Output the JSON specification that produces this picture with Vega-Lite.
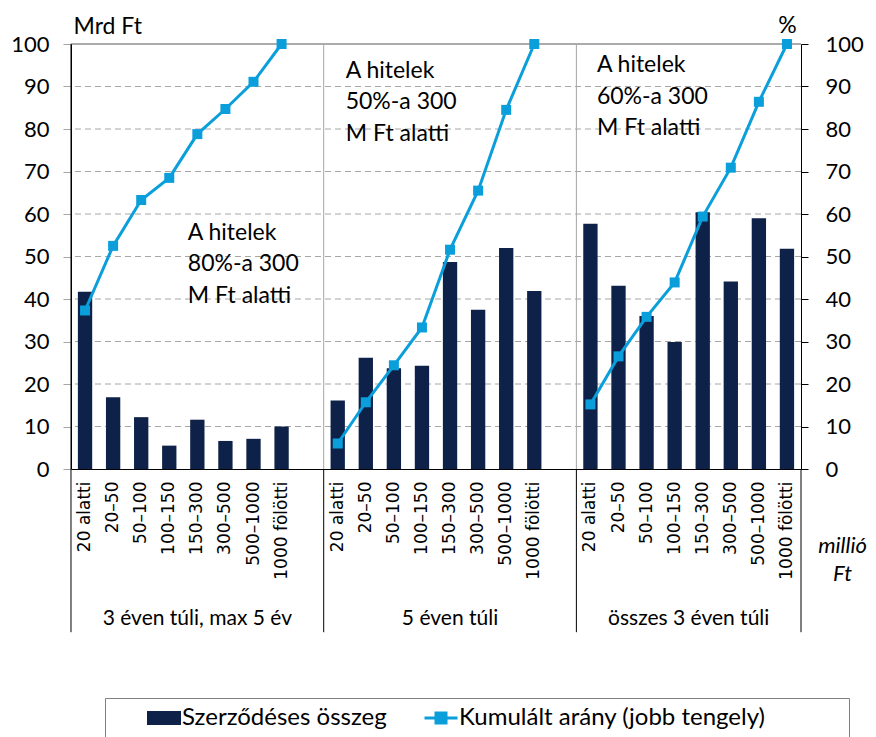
{
  "$schema": "https://vega.github.io/schema/vega-lite/v6.json",
  "width": 730,
  "height": 425,
  "autosize": {"type": "none"},
  "padding": {"left": 71, "top": 44, "right": 75, "bottom": 268},
  "background": "white",
  "config": {"font": "Lato", "view": {"stroke": null}},
  "datasets": {
    "bars": [
      {"slot": "1|20 alatti", "series": "Szerződéses összeg", "value": 41.7},
      {"slot": "1|20–50", "series": "Szerződéses összeg", "value": 16.9},
      {"slot": "1|50–100", "series": "Szerződéses összeg", "value": 12.2},
      {"slot": "1|100–150", "series": "Szerződéses összeg", "value": 5.5},
      {"slot": "1|150–300", "series": "Szerződéses összeg", "value": 11.6},
      {"slot": "1|300–500", "series": "Szerződéses összeg", "value": 6.6},
      {"slot": "1|500–1000", "series": "Szerződéses összeg", "value": 7.1},
      {"slot": "1|1000 fölötti", "series": "Szerződéses összeg", "value": 10.0},
      {"slot": "2|20 alatti", "series": "Szerződéses összeg", "value": 16.1},
      {"slot": "2|20–50", "series": "Szerződéses összeg", "value": 26.2},
      {"slot": "2|50–100", "series": "Szerződéses összeg", "value": 23.7},
      {"slot": "2|100–150", "series": "Szerződéses összeg", "value": 24.3},
      {"slot": "2|150–300", "series": "Szerződéses összeg", "value": 48.7},
      {"slot": "2|300–500", "series": "Szerződéses összeg", "value": 37.5},
      {"slot": "2|500–1000", "series": "Szerződéses összeg", "value": 52.0},
      {"slot": "2|1000 fölötti", "series": "Szerződéses összeg", "value": 41.9},
      {"slot": "3|20 alatti", "series": "Szerződéses összeg", "value": 57.7},
      {"slot": "3|20–50", "series": "Szerződéses összeg", "value": 43.1},
      {"slot": "3|50–100", "series": "Szerződéses összeg", "value": 36.0},
      {"slot": "3|100–150", "series": "Szerződéses összeg", "value": 29.9},
      {"slot": "3|150–300", "series": "Szerződéses összeg", "value": 60.4},
      {"slot": "3|300–500", "series": "Szerződéses összeg", "value": 44.1},
      {"slot": "3|500–1000", "series": "Szerződéses összeg", "value": 59.0},
      {"slot": "3|1000 fölötti", "series": "Szerződéses összeg", "value": 51.8}
    ],
    "cumulative": [
      {"slot": "1|20 alatti", "group": "3 éven túli, max 5 év", "series": "Kumulált arány (jobb tengely)", "value": 37.3},
      {"slot": "1|20–50", "group": "3 éven túli, max 5 év", "series": "Kumulált arány (jobb tengely)", "value": 52.5},
      {"slot": "1|50–100", "group": "3 éven túli, max 5 év", "series": "Kumulált arány (jobb tengely)", "value": 63.3},
      {"slot": "1|100–150", "group": "3 éven túli, max 5 év", "series": "Kumulált arány (jobb tengely)", "value": 68.5},
      {"slot": "1|150–300", "group": "3 éven túli, max 5 év", "series": "Kumulált arány (jobb tengely)", "value": 78.8},
      {"slot": "1|300–500", "group": "3 éven túli, max 5 év", "series": "Kumulált arány (jobb tengely)", "value": 84.7},
      {"slot": "1|500–1000", "group": "3 éven túli, max 5 év", "series": "Kumulált arány (jobb tengely)", "value": 91.1},
      {"slot": "1|1000 fölötti", "group": "3 éven túli, max 5 év", "series": "Kumulált arány (jobb tengely)", "value": 100},
      {"slot": "2|20 alatti", "group": "5 éven túli", "series": "Kumulált arány (jobb tengely)", "value": 6.0},
      {"slot": "2|20–50", "group": "5 éven túli", "series": "Kumulált arány (jobb tengely)", "value": 15.7},
      {"slot": "2|50–100", "group": "5 éven túli", "series": "Kumulált arány (jobb tengely)", "value": 24.4},
      {"slot": "2|100–150", "group": "5 éven túli", "series": "Kumulált arány (jobb tengely)", "value": 33.3},
      {"slot": "2|150–300", "group": "5 éven túli", "series": "Kumulált arány (jobb tengely)", "value": 51.6},
      {"slot": "2|300–500", "group": "5 éven túli", "series": "Kumulált arány (jobb tengely)", "value": 65.5},
      {"slot": "2|500–1000", "group": "5 éven túli", "series": "Kumulált arány (jobb tengely)", "value": 84.5},
      {"slot": "2|1000 fölötti", "group": "5 éven túli", "series": "Kumulált arány (jobb tengely)", "value": 100},
      {"slot": "3|20 alatti", "group": "összes 3 éven túli", "series": "Kumulált arány (jobb tengely)", "value": 15.2},
      {"slot": "3|20–50", "group": "összes 3 éven túli", "series": "Kumulált arány (jobb tengely)", "value": 26.5},
      {"slot": "3|50–100", "group": "összes 3 éven túli", "series": "Kumulált arány (jobb tengely)", "value": 35.8},
      {"slot": "3|100–150", "group": "összes 3 éven túli", "series": "Kumulált arány (jobb tengely)", "value": 43.9},
      {"slot": "3|150–300", "group": "összes 3 éven túli", "series": "Kumulált arány (jobb tengely)", "value": 59.4},
      {"slot": "3|300–500", "group": "összes 3 éven túli", "series": "Kumulált arány (jobb tengely)", "value": 70.9},
      {"slot": "3|500–1000", "group": "összes 3 éven túli", "series": "Kumulált arány (jobb tengely)", "value": 86.4},
      {"slot": "3|1000 fölötti", "group": "összes 3 éven túli", "series": "Kumulált arány (jobb tengely)", "value": 100}
    ],
    "groups": [
      {"group": "3 éven túli, max 5 év", "first": "1|20 alatti", "label_at": "1|150–300"},
      {"group": "5 éven túli", "first": "2|20 alatti", "label_at": "2|150–300"},
      {"group": "összes 3 éven túli", "first": "3|20 alatti", "label_at": "3|150–300"}
    ],
    "gridlines": [
      {"level": 10}, {"level": 20}, {"level": 30}, {"level": 40}, {"level": 50},
      {"level": 60}, {"level": 70}, {"level": 80}, {"level": 90}
    ]
  },
  "layer": [
    {
      "data": {"name": "gridlines"},
      "mark": {"type": "rule", "color": "#A6A6A6", "strokeWidth": 1, "strokeDash": [6, 4]},
      "encoding": {
        "y": {"field": "level", "type": "quantitative", "scale": {"domain": [0, 100], "nice": false}, "axis": null}
      }
    },
    {
      "data": {"name": "bars"},
      "mark": {"type": "bar"},
      "encoding": {
        "x": {
          "field": "slot",
          "type": "nominal",
          "scale": {
            "domain": ["1|20 alatti", "1|20–50", "1|50–100", "1|100–150", "1|150–300", "1|300–500", "1|500–1000", "1|1000 fölötti", "1|",
                       "2|20 alatti", "2|20–50", "2|50–100", "2|100–150", "2|150–300", "2|300–500", "2|500–1000", "2|1000 fölötti", "2|",
                       "3|20 alatti", "3|20–50", "3|50–100", "3|100–150", "3|150–300", "3|300–500", "3|500–1000", "3|1000 fölötti"],
            "paddingInner": 0.49,
            "paddingOuter": 0.245
          },
          "axis": {
            "labelExpr": "split(datum.value, '|')[1]",
            "labelAngle": -90,
            "labelFont": "DejaVu Sans",
            "labelFontSize": 17,
            "labelColor": "black",
            "labelPadding": 12,
            "labelOverlap": false,
            "labelBound": false,
            "ticks": false,
            "domainColor": "black",
            "grid": false,
            "title": ["millió", "Ft"],
            "titleAngle": 0,
            "titleX": 771,
            "titleY": 66,
            "titleAlign": "center",
            "titleBaseline": "top",
            "titleFont": "Lato",
            "titleFontSize": 22,
            "titleFontStyle": "italic",
            "titleFontWeight": "normal",
            "titleLineHeight": 28,
            "titleColor": "black"
          }
        },
        "y": {
          "field": "value",
          "type": "quantitative",
          "scale": {"domain": [0, 100], "nice": false},
          "axis": {
            "orient": "left",
            "values": [0, 10, 20, 30, 40, 50, 60, 70, 80, 90, 100],
            "title": "Mrd Ft",
            "titleAngle": 0,
            "titleAlign": "left",
            "titleBaseline": "alphabetic",
            "titleX": 2,
            "titleY": -11,
            "titleFont": "Lato",
            "titleFontSize": 23,
            "titleFontWeight": "normal",
            "titleColor": "black",
            "labelFont": "Lato",
            "labelFontSize": 22,
            "labelColor": "black",
            "labelPadding": 14,
            "tickSize": 8,
            "tickColor": "#A6A6A6",
            "domainColor": "black",
            "grid": false
          }
        },
        "color": {
          "field": "series",
          "type": "nominal",
          "scale": {
            "domain": ["Szerződéses összeg", "Kumulált arány (jobb tengely)", ""],
            "range": ["#0E2148", "#0A9FDB", "transparent"]
          },
          "legend": {
            "orient": "none",
            "legendX": 34,
            "legendY": 654,
            "direction": "horizontal",
            "title": " ",
            "titleOrient": "left",
            "titleFontSize": 4,
            "titlePadding": 39,
            "padding": 8,
            "strokeColor": "#7F7F7F",
            "labelFont": "Lato",
            "labelFontSize": 24,
            "labelColor": "black",
            "labelOffset": 6,
            "labelLimit": 500,
            "symbolSize": 400,
            "columnPadding": 31,
            "encode": {
              "symbols": {
                "update": {
                  "shape": {"signal": "datum.value === 'Kumulált arány (jobb tengely)' ? 'M-1.65,0H1.65M-0.5,-0.5H0.5V0.5H-0.5Z' : 'M-1.55,-0.55H1.55V0.55H-1.55Z'"},
                  "fill": {"signal": "datum.value === 'Szerződéses összeg' ? '#0E2148' : (datum.value === '' ? 'transparent' : '#0A9FDB')"},
                  "stroke": {"signal": "datum.value === 'Kumulált arány (jobb tengely)' ? '#0A9FDB' : 'transparent'"},
                  "strokeWidth": {"value": 3},
                  "opacity": {"value": 1}
                }
              }
            }
          }
        }
      }
    },
    {
      "data": {"values": [{}]},
      "mark": {"type": "rule", "color": "#595959", "strokeWidth": 1.2},
      "encoding": {"y": {"datum": 100, "type": "quantitative", "scale": {"domain": [0, 100], "nice": false}, "axis": null}}
    },
    {
      "data": {"name": "groups"},
      "transform": [{"filter": "datum.first !== '1|20 alatti'"}],
      "mark": {"type": "rule", "color": "#A6A6A6", "strokeWidth": 1},
      "encoding": {
        "x": {"field": "first", "type": "nominal", "bandPosition": -0.4804, "axis": null},
        "y": {"datum": 0, "type": "quantitative", "scale": {"domain": [0, 100], "nice": false}, "axis": null},
        "y2": {"datum": 100}
      }
    },
    {
      "data": {"name": "groups"},
      "mark": {"type": "rule", "color": "black", "strokeWidth": 1},
      "encoding": {
        "x": {"field": "first", "type": "nominal", "bandPosition": -0.4804, "axis": null},
        "y": {"datum": 0, "type": "quantitative", "scale": {"domain": [0, 100], "nice": false}, "axis": null},
        "y2": {"datum": -38.4}
      }
    },
    {
      "data": {"values": [{}]},
      "mark": {"type": "rule", "color": "black", "strokeWidth": 1},
      "encoding": {
        "x": {"datum": "1|20 alatti", "type": "nominal", "bandPosition": -0.4804, "axis": null},
        "y": {"datum": 100, "type": "quantitative", "scale": {"domain": [0, 100], "nice": false}, "axis": null},
        "y2": {"datum": 0}
      }
    },
    {
      "data": {"values": [{}]},
      "mark": {"type": "rule", "color": "black", "strokeWidth": 1},
      "encoding": {
        "x": {"datum": "3|1000 fölötti", "type": "nominal", "bandPosition": 1.4804, "axis": null},
        "y": {"datum": 0, "type": "quantitative", "scale": {"domain": [0, 100], "nice": false}, "axis": null},
        "y2": {"datum": -38.4}
      }
    },
    {
      "data": {"name": "groups"},
      "transform": [{"filter": "datum.first !== '3|20 alatti'"}],
      "mark": {"type": "text", "font": "Lato", "fontSize": 21, "color": "black", "align": "center", "baseline": "middle"},
      "encoding": {
        "x": {"field": "label_at", "type": "nominal", "axis": null},
        "y": {"datum": -35.4, "type": "quantitative", "scale": {"domain": [0, 100], "nice": false}, "axis": null},
        "text": {"field": "group"}
      }
    },
    {
      "data": {"name": "groups"},
      "transform": [{"filter": "datum.first === '3|20 alatti'"}],
      "mark": {"type": "text", "font": "Lato", "fontSize": 21, "color": "black", "align": "center", "baseline": "middle"},
      "encoding": {
        "x": {"field": "label_at", "type": "nominal", "bandPosition": -0.4804, "axis": null},
        "y": {"datum": -35.4, "type": "quantitative", "scale": {"domain": [0, 100], "nice": false}, "axis": null},
        "text": {"field": "group"}
      }
    },
    {
      "data": {"values": [{"note": "A hitelek\n80%-a 300\nM Ft alatti"}]},
      "mark": {"type": "text", "font": "Lato", "fontSize": 23, "color": "black", "align": "left", "baseline": "top", "lineBreak": "\n", "lineHeight": 31.5, "dx": 4.5},
      "encoding": {
        "x": {"datum": "1|150–300", "type": "nominal", "bandPosition": -0.4804, "axis": null},
        "y": {"datum": 58.2, "type": "quantitative", "scale": {"domain": [0, 100], "nice": false}, "axis": null},
        "text": {"field": "note"}
      }
    },
    {
      "data": {"values": [{"note": "A hitelek\n50%-a 300\nM Ft alatti"}]},
      "mark": {"type": "text", "font": "Lato", "fontSize": 23, "color": "black", "align": "left", "baseline": "top", "lineBreak": "\n", "lineHeight": 31.5, "dx": 22},
      "encoding": {
        "x": {"datum": "2|20 alatti", "type": "nominal", "bandPosition": -0.4804, "axis": null},
        "y": {"datum": 96.3, "type": "quantitative", "scale": {"domain": [0, 100], "nice": false}, "axis": null},
        "text": {"field": "note"}
      }
    },
    {
      "data": {"values": [{"note": "A hitelek\n60%-a 300\nM Ft alatti"}]},
      "mark": {"type": "text", "font": "Lato", "fontSize": 23, "color": "black", "align": "left", "baseline": "top", "lineBreak": "\n", "lineHeight": 31.5, "dx": 20.5},
      "encoding": {
        "x": {"datum": "3|20 alatti", "type": "nominal", "bandPosition": -0.4804, "axis": null},
        "y": {"datum": 97.6, "type": "quantitative", "scale": {"domain": [0, 100], "nice": false}, "axis": null},
        "text": {"field": "note"}
      }
    },
    {
      "data": {"name": "cumulative"},
      "mark": {"type": "line", "strokeWidth": 3, "point": {"shape": "square", "filled": true, "size": 100}},
      "encoding": {
        "x": {"field": "slot", "type": "nominal", "axis": null},
        "y": {
          "field": "value",
          "type": "quantitative",
          "scale": {"domain": [0, 100], "nice": false},
          "axis": {
            "orient": "right",
            "values": [0, 10, 20, 30, 40, 50, 60, 70, 80, 90, 100],
            "title": "%",
            "titleAngle": 0,
            "titleAlign": "center",
            "titleBaseline": "alphabetic",
            "titleX": -14,
            "titleY": -12,
            "titleFont": "Lato",
            "titleFontSize": 23,
            "titleFontWeight": "normal",
            "titleColor": "black",
            "labelFont": "Lato",
            "labelFontSize": 22,
            "labelColor": "black",
            "labelPadding": 17,
            "tickSize": 7,
            "tickColor": "black",
            "domainColor": "black",
            "grid": false
          }
        },
        "color": {"field": "series", "type": "nominal"},
        "detail": {"field": "group"}
      }
    }
  ],
  "resolve": {"scale": {"y": "independent"}, "axis": {"x": "independent"}}
}
